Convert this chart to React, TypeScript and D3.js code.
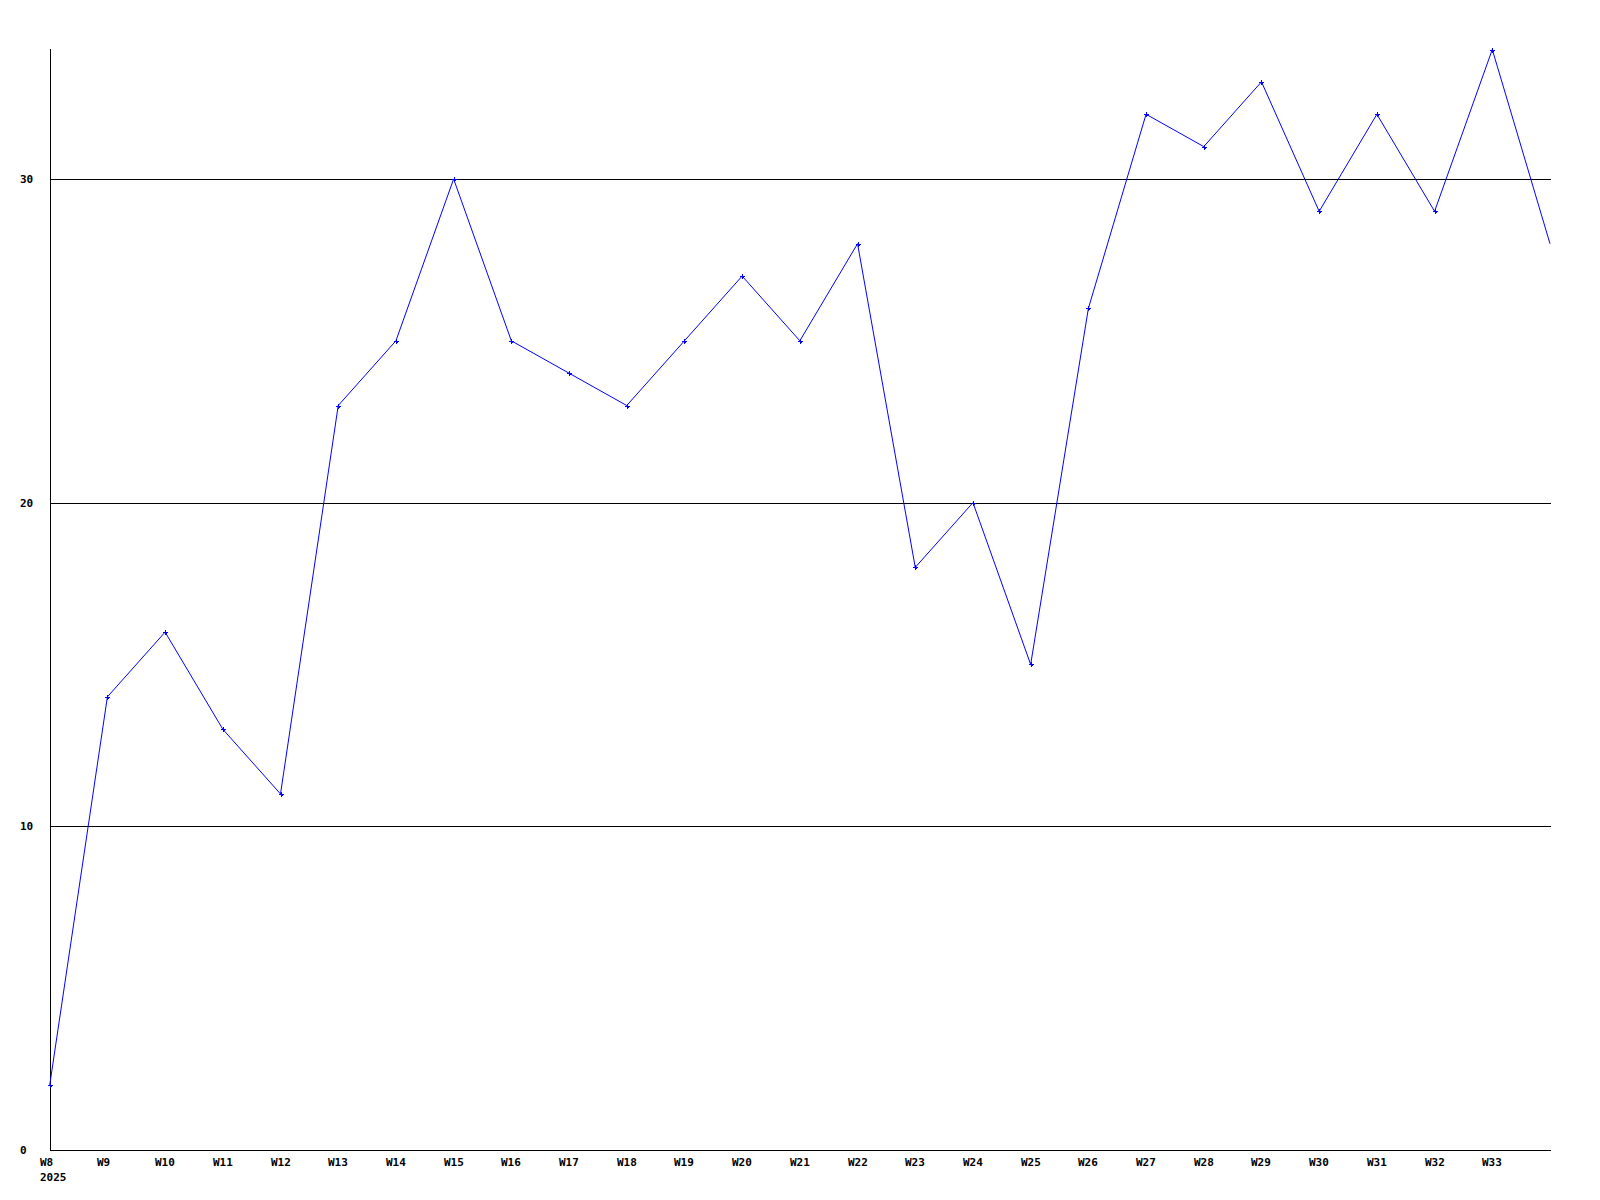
import React from "react";
import * as d3 from "d3";

const weeks = ["W8","W9","W10","W11","W12","W13","W14","W15","W16","W17","W18","W19","W20","W21","W22","W23","W24","W25","W26","W27","W28","W29","W30","W31","W32","W33","W34"];
const values = [2,14,16,13,11,23,25,30,25,24,23,25,27,25,28,18,20,15,26,32,31,33,29,32,29,34,28];
const yTicks = [0,10,20,30];
const xLabelCount = 26; // W8..W33 labelled
const yearLabel = "2025";

export default function App() {
  const W = 1600, H = 1200;
  const x = d3.scaleLinear().domain([0, weeks.length - 1]).range([49.7, 1550]);
  const y = d3.scaleLinear().domain([0, 34]).range([1150, 49.5]);
  const line = d3.line<number>().x((_, i) => x(i)).y(d => y(d));
  const font = { fontFamily: "'DejaVu Sans Mono', monospace", fontWeight: 700, fontSize: 11 };
  return (
    <svg width={W} height={H} style={{ position: "absolute", left: 0, top: 0 }} shapeRendering="crispEdges">
      <rect x={0} y={0} width={W} height={H} fill="#fff" />
      {yTicks.filter(t => t > 0).map(t => (
        <line key={t} x1={51} x2={1551} y1={Math.round(y(t)) + 0.5} y2={Math.round(y(t)) + 0.5} stroke="#000" />
      ))}
      <line x1={50.5} x2={50.5} y1={49} y2={1150.5} stroke="#000" />
      <line x1={50} x2={1551} y1={1150.5} y2={1150.5} stroke="#000" />
      {yTicks.map(t => (
        <text key={t} x={20} y={Math.round(y(t)) + 4} {...font} fill="#000">{t}</text>
      ))}
      {weeks.slice(0, xLabelCount).map((w, i) => (
        <text key={w} x={Math.round(x(i)) - 10} y={1166} {...font} fill="#000">{w}</text>
      ))}
      <text x={40} y={1181} {...font} fill="#000">{yearLabel}</text>
      <path d={line(values) || ""} fill="none" stroke="#0000ff" strokeWidth={1} shapeRendering="auto" />
      {values.slice(0, values.length - 1).map((v, i) => {
        const cx = Math.round(x(i)) + 0.5, cy = Math.round(y(v)) + 0.5;
        return (
          <g key={i} stroke="#0000ff">
            <line x1={cx - 2.5} x2={cx + 2.5} y1={cy} y2={cy} />
            <line x1={cx} x2={cx} y1={cy - 2.5} y2={cy + 2.5} />
            <rect x={cx - 1} y={cy - 1} width={2} height={2} fill="#0000ff" stroke="none" />
          </g>
        );
      })}
    </svg>
  );
}
